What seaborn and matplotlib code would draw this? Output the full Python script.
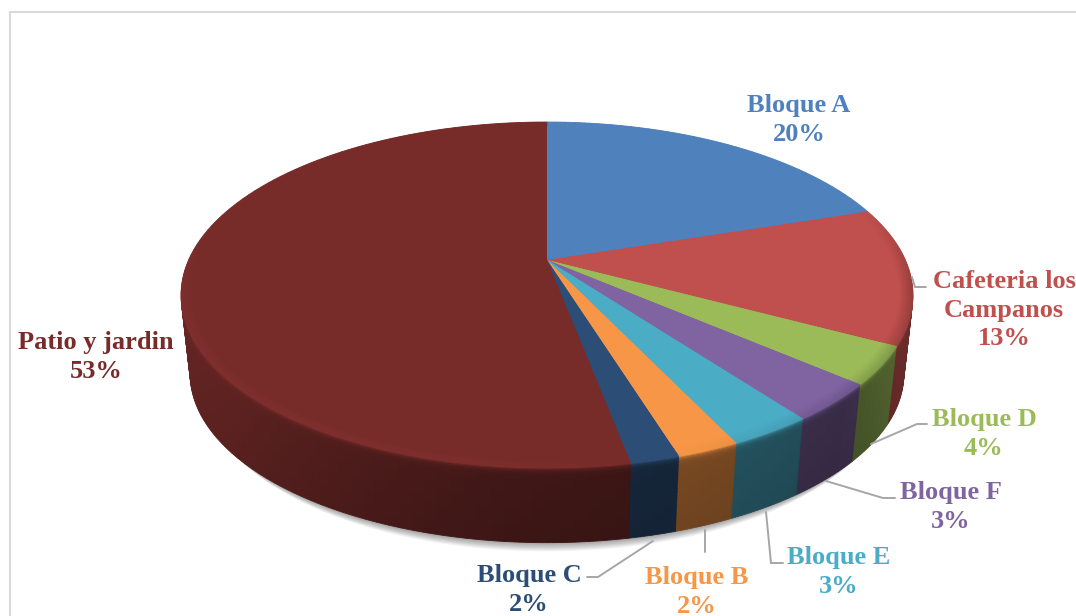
import numpy as np
import matplotlib
matplotlib.use("Agg")
import matplotlib.pyplot as plt
import seaborn as sns
from matplotlib.patches import Circle
from matplotlib.transforms import Transform

labels = ["Bloque A", "Cafeteria los\nCampanos", "Bloque D", "Bloque F",
          "Bloque E", "Bloque B", "Bloque C", "Patio y jardin"]
values = [20, 12.8, 3.5, 3.5, 3.1, 2.3, 1.8, 53]
percent_labels = ["20%", "13%", "4%", "3%", "3%", "2%", "2%", "53%"]
hex_colors = ["#4f81bd", "#c0504d", "#9bbb59", "#8064a2",
              "#4bacc6", "#f79646", "#2c4d75", "#772c2a"]

# layout (pixels of the 1076x616 picture)
label_xy = [(799, 120), (1004, 310), (984, 434), (951, 507),
            (839, 572), (697, 592), (529, 590), (96, 357)]
leaders = [None,
           [(912, 277), (915, 287), (926, 287)],
           [(871, 444), (917, 424), (927, 424)],
           [(826, 481), (883, 498), (895, 498)],
           [(766, 512), (771, 563), (783, 563)],
           [(705, 530), (705, 552)],
           [(653, 541), (598, 577), (587, 577)],
           None]

CX, CY = 547.0, 260.0      # apex of the slices on screen
ELL_CY = 295.0             # centre of the projected rim ellipse
K, B, A = 0.2023, 165.9, 358.4
DEPTH = 79.0
SHRINK = 0.025
TOP_R = 0.965


class Tilt(Transform):
    """Perspective view of a unit-radius pie, optionally lowered by `d` pixels."""
    input_dims = output_dims = 2
    is_separable = False
    has_inverse = False

    def __init__(self, d=0.0):
        super().__init__()
        self.d = d

    def transform_non_affine(self, xy):
        xy = np.asarray(xy, float)
        u, v = xy[:, 0], xy[:, 1]
        w = 1 + K * v
        x = A * u / w
        y = CY - B * v / w
        s = 1 - SHRINK * self.d / DEPTH
        return np.column_stack([CX + s * x, ELL_CY + self.d + s * (y - ELL_CY)])


sns.set_theme(style="white")
plt.rcParams["font.family"] = ["Liberation Serif", "DejaVu Serif"]
palette = sns.color_palette(hex_colors)

fig, ax = plt.subplots(figsize=(10.76, 6.16), dpi=100)
fig.subplots_adjust(0, 0, 1, 1)


def wall_shade(theta):
    """Wall brightness by clockwise angle from the top of the pie."""
    return np.interp(theta, [0, 60, 115, 135, 170, 185, 205, 232, 272, 330, 360],
                     [.75, .65, .55, .44, .50, .54, .64, .80, .92, .85, .75])


def bevel_shade(theta):
    """Rim brightness by clockwise angle from the top of the pie."""
    return np.interp(theta, [0, 70, 100, 130, 165, 200, 245, 285, 320, 360],
                     [1.0, 1.0, .78, .86, 1.0, 1.07, 1.07, 1.0, 1.0, 1.0])


# sub-divide each slice so the wall can shade around the rim
sub_vals, sub_base = [], []
for v, c in zip(values, palette):
    n = int(np.ceil(v * 2))
    sub_vals += [v / n] * n
    sub_base += [c] * n
sub_vals = np.array(sub_vals)
sub_theta = (np.cumsum(sub_vals) - sub_vals / 2) * 3.6
sub_base = np.array(sub_base)


def draw_ring(factors, radius, depth, zorder):
    cols = np.clip(sub_base * np.asarray(factors)[:, None], 0, 1)
    wedges, _ = ax.pie(sub_vals, startangle=90, counterclock=False, colors=list(cols),
                       wedgeprops=dict(linewidth=0.6), radius=radius, frame=False)
    for w, c in zip(wedges, cols):
        w.set_edgecolor(c)
        w.set_transform(Tilt(depth) + ax.transData)
        w.set_zorder(zorder)


# soft shadow
for d in np.linspace(DEPTH + 20, DEPTH + 2, 14):
    ax.add_patch(Circle((0, 0), 1.0 - 0.002 * (d - DEPTH), fc="#000000", ec="none",
                        alpha=0.028, transform=Tilt(d) + ax.transData, zorder=1))

# side wall, bottom layer first
for d in np.arange(DEPTH, 0, -1.5):
    f = wall_shade(sub_theta) * (1 - 0.07 * d / DEPTH)
    f = f + (bevel_shade(sub_theta) - f) * np.exp(-d / 2.5)
    draw_ring(f, 1.0, d, 2)

# bevel between wall and top face
for t in np.linspace(0, 1, 8)[:-1]:
    draw_ring(bevel_shade(sub_theta) * (1 - t) + t, 1.0 + (TOP_R - 1.0) * t, 0.0, 3)

# top face
wedges, _ = ax.pie(values, startangle=90, counterclock=False, colors=palette,
                   wedgeprops=dict(linewidth=0), radius=TOP_R, frame=False)
for w in wedges:
    w.set_transform(Tilt() + ax.transData)
    w.set_zorder(3)

ax.set_aspect("auto")
ax.set_xlim(0, 1076)
ax.set_ylim(616, 0)
ax.axis("off")

# frame of the original picture
ax.plot([1076, 10, 10], [12, 12, 616], color="#d9d9d9", lw=1.5, zorder=1,
        solid_joinstyle="miter")

for pts in leaders:
    if pts:
        xs, ys = zip(*pts)
        ax.plot(xs, ys, color="#a6a6a6", lw=1.4, zorder=4, solid_joinstyle="miter")

for lab, pct, (x, y), c in zip(labels, percent_labels, label_xy, palette):
    ax.text(x, y, f"{lab}\n{pct}", color=c, fontsize=19,
            fontweight="bold", ha="center", va="center", multialignment="center",
            linespacing=1.33, zorder=5)

fig.savefig("out.png", dpi=100)
